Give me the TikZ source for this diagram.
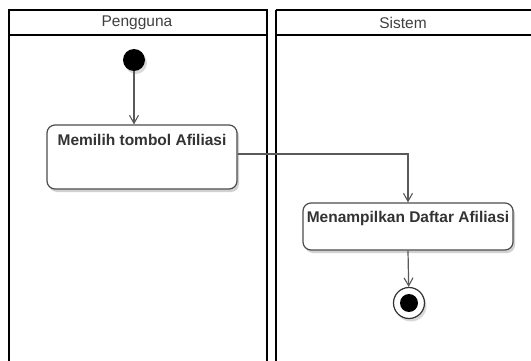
\documentclass[tikz,border=0pt]{standalone}
\usepackage{fontspec}
\setmainfont{Liberation Sans}
\usetikzlibrary{arrows.meta,shadows}
\begin{document}
\begin{tikzpicture}[x=1pt,y=-1pt,
  lane/.style={draw=black,line width=2.2pt},
  lanetitle/.style={text=black!75,font=\fontsize{15.5}{17}\selectfont},
  action/.style={draw=black!70,line width=1.2pt,rounded corners=8pt,fill=white,
    drop shadow={shadow xshift=2pt,shadow yshift=-3pt,opacity=0.18,fill=black}},
  actiontext/.style={anchor=north,inner sep=0pt,text=black!80,
    font=\bfseries\fontsize{15.5}{17}\selectfont},
  flow/.style={draw=black!65,line width=1.2pt,
    -{Straight Barb[length=8pt,width=9pt,line width=1.1pt]}},
]
\useasboundingbox (0,0) rectangle (531,361);
\fill[white] (0,0) rectangle (531,361);

% swimlanes
\draw[lane] (9,10) rectangle (267,368);
\draw[lane] (9,35) -- (267,35);
\draw[lane] (276,10) -- (536,10);
\draw[lane] (276,10) -- (276,368);
\draw[lane] (276,35) -- (536,35);
\node[lanetitle] (lane1) at (137,23) {Pengguna};
\node[lanetitle] (lane2) at (403,23) {Sistem};

% initial node
\node[circle,fill=black,minimum size=22pt,inner sep=0pt,
  drop shadow={shadow xshift=2pt,shadow yshift=-3pt,opacity=0.15,fill=black}] (start) at (134,60) {};

% actions
\node[action,minimum width=190pt,minimum height=64pt] (b1) at (142,157) {};
\node[actiontext] (t1) at ([yshift=-10pt]b1.north) {Memilih tombol Afiliasi};
\node[action,minimum width=210pt,minimum height=47pt] (b2) at (408,226.5) {};
\node[actiontext] (t2) at ([yshift=-9pt]b2.north) {Menampilkan Daftar Afiliasi};

% final node
\node[circle,draw=black!80,line width=1.2pt,fill=white,minimum size=31pt,inner sep=0pt,
  drop shadow={shadow xshift=2pt,shadow yshift=-3pt,opacity=0.15,fill=black}] (end) at (409,303) {};
\node[circle,fill=black,minimum size=18pt,inner sep=0pt] (endin) at (end.center) {};

% flows
\draw[flow] (start) -- (start |- b1.north);
\draw[flow] ([yshift=3pt]b1.east) -| (b2.north);
\draw[flow] (b2.south) -- (end);
\end{tikzpicture}
\end{document}
